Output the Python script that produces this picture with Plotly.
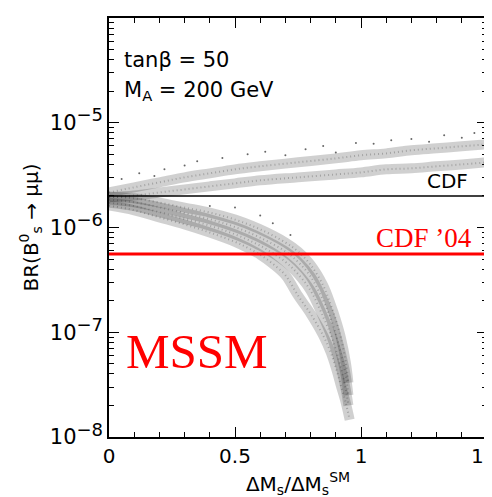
import plotly.graph_objects as go

# ---- data ----
# upper band (BR increasing with dMs ratio)
upper_x = [0, 0.1, 0.2, 0.3, 0.4, 0.5, 0.6, 0.75, 0.9, 1.0, 1.1, 1.2, 1.3, 1.4, 1.5]
upper_top = [2.16e-6, 2.42e-6, 2.70e-6, 3.01e-6, 3.29e-6, 3.59e-6, 3.84e-6, 4.19e-6,
             4.57e-6, 4.89e-6, 5.10e-6, 5.46e-6, 5.70e-6, 5.96e-6, 6.22e-6]
upper_low = [1.94e-6, 2.02e-6, 2.16e-6, 2.31e-6, 2.47e-6, 2.64e-6, 2.82e-6, 3.01e-6,
             3.21e-6, 3.36e-6, 3.59e-6, 3.67e-6, 3.84e-6, 4.00e-6, 4.19e-6]

# lower band (BR falling towards dMs ratio ~0.95)
lower_x = [0, 0.1, 0.2, 0.3, 0.4, 0.5, 0.6, 0.7, 0.75, 0.8, 0.85, 0.88, 0.9, 0.92, 0.94, 0.95]
lower_a = [1.98e-6, 1.90e-6, 1.73e-6, 1.55e-6, 1.39e-6, 1.19e-6, 9.6e-7, 7.2e-7, 5.9e-7,
           4.4e-7, 2.79e-7, 1.83e-7, 1.32e-7, 8.9e-8, 5.1e-8, 3.3e-8]
lower_b1 = [1.85e-6, 1.74e-6, 1.56e-6, 1.37e-6, 1.20e-6, 1.01e-6, 8.0e-7, 5.9e-7, 4.7e-7,
            3.4e-7, 2.0e-7, 1.35e-7, 9.5e-8, 6.3e-8, 3.8e-8, 2.5e-8]
lower_b2 = [1.72e-6, 1.60e-6, 1.40e-6, 1.21e-6, 1.04e-6, 8.6e-7, 6.7e-7, 4.7e-7, 3.6e-7,
            2.5e-7, 1.4e-7, 9.5e-8, 6.8e-8, 4.6e-8, 2.8e-8, 2.0e-8]
lower_c_x = [0, 0.1, 0.2, 0.3, 0.4, 0.5, 0.55, 0.6, 0.65, 0.7, 0.75, 0.8, 0.85, 0.88, 0.9, 0.92, 0.94, 0.955]
lower_c = [1.62e-6, 1.46e-6, 1.25e-6, 1.07e-6, 8.95e-7, 7.3e-7, 6.4e-7, 5.5e-7, 4.5e-7,
           3.5e-7, 2.24e-7, 1.50e-7, 9.3e-8, 6.4e-8, 4.6e-8, 3.1e-8, 2.1e-8, 1.46e-8]

# scattered points away from the bands
stray_x = [0.05, 0.12, 0.18, 0.22, 0.3, 0.35, 0.45, 0.55, 0.62, 0.7, 0.78, 0.85, 0.9, 0.98,
           1.05, 1.12, 1.2, 1.27, 1.33, 1.4, 1.45, 0.5, 0.6, 0.4, 0.65, 0.72]
stray_y = [2.9e-6, 3.3e-6, 3.1e-6, 3.6e-6, 3.9e-6, 4.3e-6, 4.6e-6, 5.0e-6, 5.3e-6, 4.9e-6,
           5.6e-6, 6.0e-6, 5.2e-6, 6.4e-6, 6.3e-6, 6.8e-6, 7.0e-6, 6.6e-6, 7.6e-6, 7.2e-6,
           8.0e-6, 1.55e-6, 1.3e-6, 1.6e-6, 1.1e-6, 8.5e-7]

cdf_limit = 2.0e-6
cdf04_limit = 5.6e-7

x_ticks = [0, 0.5, 1, 1.5]
x_ticklabels = ["0", "0.5", "1", "1.5"]
y_ticks = [1e-8, 1e-7, 1e-6, 1e-5]
y_ticklabels = ["10<sup><span style='font-size:18px'>\u22128</span></sup>",
                "10<sup><span style='font-size:18px'>\u22127</span></sup>",
                "10<sup><span style='font-size:18px'>\u22126</span></sup>",
                "10<sup><span style='font-size:18px'>\u22125</span></sup>"]

FONT = "DejaVu Sans, Verdana, sans-serif"
SERIF = "Liberation Serif, Times New Roman, serif"

fig = go.Figure()

band_style = dict(color="rgba(40,40,40,0.22)", width=10, shape="spline")
core_style = dict(color="rgba(0,0,0,0.22)", width=2, shape="spline", dash="1px,3px")

strands = [
    (upper_x, upper_top), (upper_x, upper_low),
    (lower_x, lower_a), (lower_x, lower_b1), (lower_x, lower_b2), (lower_c_x, lower_c),
]
for sx, sy in strands:
    fig.add_trace(go.Scatter(x=sx, y=sy, mode="lines", line=band_style,
                             hoverinfo="skip", showlegend=False))
for sx, sy in strands:
    fig.add_trace(go.Scatter(x=sx, y=sy, mode="lines", line=core_style,
                             hoverinfo="skip", showlegend=False))

fig.add_trace(go.Scatter(x=stray_x, y=stray_y, mode="markers",
                         marker=dict(size=2, color="rgba(0,0,0,0.6)"),
                         hoverinfo="skip", showlegend=False))

# limit lines
fig.add_trace(go.Scatter(x=[0, 1.5], y=[cdf_limit, cdf_limit], mode="lines",
                         line=dict(color="black", width=1.5), showlegend=False))
fig.add_trace(go.Scatter(x=[0, 1.5], y=[cdf04_limit, cdf04_limit], mode="lines",
                         line=dict(color="#ff0000", width=3), showlegend=False))

minor_x = [0.1, 0.2, 0.3, 0.4, 0.6, 0.7, 0.8, 0.9, 1.1, 1.2, 1.3, 1.4]
minor_y = [k * 10.0 ** e for e in range(-8, -4) for k in range(2, 10)]

fig.update_xaxes(
    range=[0, 1.5], showline=True, linecolor="black", linewidth=1.5, mirror="allticks",
    ticks="inside", ticklen=10, tickwidth=1.2, tickcolor="black",
    tickmode="array", tickvals=x_ticks, ticktext=x_ticklabels, ticklabeloverflow="allow",
    minor=dict(tickmode="array", tickvals=minor_x, ticks="inside", ticklen=5,
               tickwidth=1.2, tickcolor="black", showgrid=False),
    showgrid=False, zeroline=False, automargin=False,
    tickfont=dict(family=FONT, size=20, color="black"),
    title=dict(text="\u0394M<sub>s</sub>/\u0394M<sub>s</sub><sup>SM</sup>",
               font=dict(family=FONT, size=20, color="black"), standoff=10),
)
fig.update_yaxes(
    type="log", range=[-8, -4], showline=True, linecolor="black", linewidth=1.5,
    mirror="allticks", ticks="inside", ticklen=10, tickwidth=1.2, tickcolor="black",
    tickmode="array", tickvals=y_ticks, ticktext=y_ticklabels,
    minor=dict(tickmode="array", tickvals=minor_y, ticks="inside", ticklen=5,
               tickwidth=1.2, tickcolor="black", showgrid=False),
    showgrid=False, zeroline=False, automargin=False,
    tickfont=dict(family=FONT, size=21, color="black"),
    title=dict(text="BR(B<sup>0</sup><sub>s</sub> \u2192 \u03bc\u03bc)",
               font=dict(family=FONT, size=20, color="black"), standoff=6),
)

annotations = [
    dict(text="tan\u03b2 = 50", x=0.035, y=0.9, xanchor="left", yanchor="middle",
         font=dict(family=FONT, size=21, color="black")),
    dict(text="M<sub>A</sub> = 200 GeV", x=0.035, y=0.825, xanchor="left", yanchor="middle",
         font=dict(family=FONT, size=21, color="black")),
    dict(text="CDF", x=0.955, y=0.612, xanchor="right", yanchor="middle",
         font=dict(family=FONT, size=20, color="black")),
    dict(text="CDF \u201904", x=0.965, y=0.475, xanchor="right", yanchor="middle",
         font=dict(family=SERIF, size=27, color="#ff0000")),
    dict(text="MSSM", x=0.04, y=0.205, xanchor="left", yanchor="middle",
         font=dict(family=SERIF, size=49, color="#ff0000")),
]
for a in annotations:
    a.update(xref="paper", yref="paper", showarrow=False)

fig.update_layout(
    width=492, height=497,
    margin=dict(l=101, r=13, t=10, b=68),
    paper_bgcolor="white", plot_bgcolor="white",
    annotations=annotations,
    showlegend=False,
)

fig.write_html("out.html")
